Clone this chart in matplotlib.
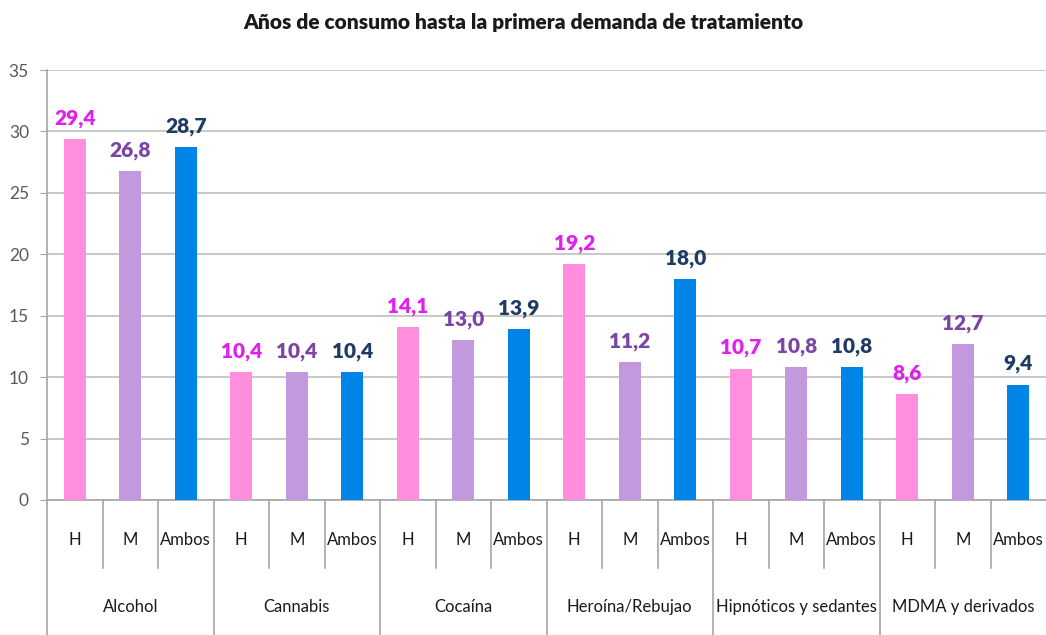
import matplotlib
matplotlib.use("Agg")
import matplotlib.pyplot as plt
from matplotlib.transforms import blended_transform_factory
import numpy as np

groups = ["Alcohol", "Cannabis", "Cocaína", "Heroína/Rebujao",
          "Hipnóticos y sedantes", "MDMA y derivados"]
subcats = ["H", "M", "Ambos"]
values_H = [29.4, 10.4, 14.1, 19.2, 10.7, 8.6]
values_M = [26.8, 10.4, 13.0, 11.2, 10.8, 12.7]
values_A = [28.7, 10.4, 13.9, 18.0, 10.8, 9.4]
yticks = [0, 5, 10, 15, 20, 25, 30, 35]

bar_colors = ["#FF8EDE", "#C299DD", "#0084E8"]
label_colors = ["#E11FEF", "#7B45A6", "#1F3B63"]

plt.rcParams['font.family'] = ['Lato', 'DejaVu Sans']

fig = plt.figure(figsize=(10.46, 6.35), dpi=100)
ax = fig.add_axes([47/1046, 1-500/635, 1-47/1046, 430/635])

series = [values_H, values_M, values_A]
n = len(groups)
for s, vals in enumerate(series):
    xs = np.arange(n) * 3 + s
    ax.bar(xs, vals, width=0.4, color=bar_colors[s], zorder=3)
    for x, v in zip(xs, vals):
        ax.text(x, v + 0.9, f"{v:.1f}".replace(".", ","), ha="center", va="bottom",
                fontsize=15, fontweight="heavy", color=label_colors[s], zorder=4)

ax.set_xlim(-0.5, 3*n - 0.5)
ax.set_ylim(0, 35)
ax.set_yticks(yticks)
ax.set_yticklabels([str(t) for t in yticks], fontsize=12.5, color="#595959")
ax.tick_params(axis="y", length=5, color="#A6A6A6", pad=8)
ax.yaxis.grid(True, color="#BFBFBF", linewidth=1.2, zorder=0)
ax.set_axisbelow(True)
ax.set_xticks([])
for sp in ["top", "right"]:
    ax.spines[sp].set_visible(False)
ax.spines["left"].set_color("#A6A6A6")
ax.spines["bottom"].set_color("#A6A6A6")
ax.spines["left"].set_linewidth(1.2)
ax.spines["bottom"].set_linewidth(1.2)

tr = blended_transform_factory(ax.transData, ax.transAxes)
h = 430.0
for i in range(3*n):
    ax.text(i, -40/h, subcats[i % 3], transform=tr, ha="center", va="center",
            fontsize=12, color="#1a1a1a")
for k in range(1, 3*n):
    if k % 3 == 0:
        y1 = -140/h
    else:
        y1 = -68/h
    ax.plot([k-0.5, k-0.5], [0, y1], transform=tr, color="#A6A6A6", lw=1.2, clip_on=False)
ax.plot([-0.5, -0.5], [0, -140/h], transform=tr, color="#A6A6A6", lw=1.2, clip_on=False)
for g, name in enumerate(groups):
    ax.text(g*3 + 1, -107/h, name, transform=tr, ha="center", va="center",
            fontsize=12, color="#1a1a1a")

fig.text(0.5, 1-22/635, "Años de consumo hasta la primera demanda de tratamiento",
         ha="center", va="center", fontsize=15, fontweight="heavy", color="#1a1a1a")

fig.savefig("out.png", dpi=100)
